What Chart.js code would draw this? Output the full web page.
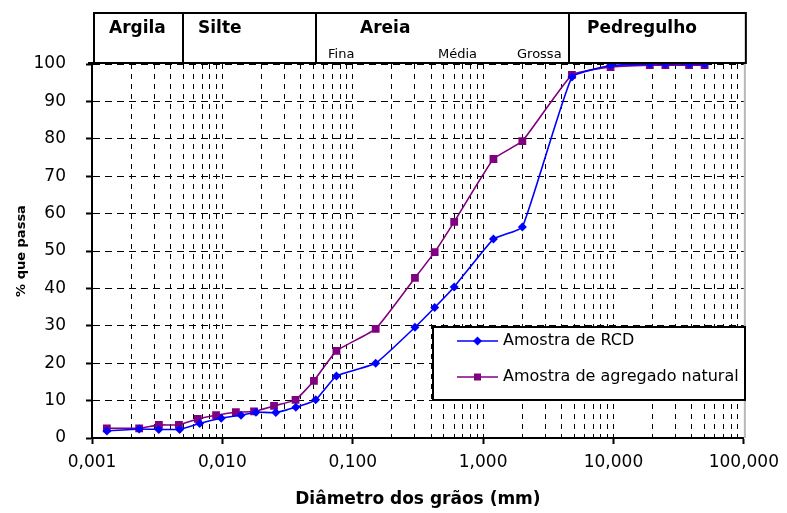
<!DOCTYPE html>
<html><head><meta charset="utf-8">
<script src="https://cdn.jsdelivr.net/npm/chart.js@4.4.0/dist/chart.umd.min.js"></script>
<style>html,body{margin:0;padding:0;background:#fff;}#wrap{width:787px;height:513px;position:relative;}</style>
</head><body><div id="wrap"><canvas id="c" width="787" height="513"></canvas></div>
<script>
// ---- data ----
const seriesLabels = ['Amostra de RCD', 'Amostra de agregado natural'];
const rcdDiameters = [0.0013, 0.0023, 0.00325, 0.0047, 0.0067, 0.0098, 0.0139, 0.0181, 0.0257, 0.0366, 0.052, 0.075, 0.15, 0.3, 0.425, 0.6, 1.2, 2.0, 4.8, 9.5, 19, 25, 38, 50];
const rcdPassing   = [1.9, 2.4, 2.3, 2.3, 3.9, 5.3, 6.1, 6.9, 6.8, 8.2, 10.2, 16.6, 20.0, 29.6, 34.9, 40.4, 53.2, 56.4, 96.5, 99.6, 100, 100, 100, 100];
const natDiameters = [0.0013, 0.0023, 0.00326, 0.00464, 0.00648, 0.00895, 0.0127, 0.0175, 0.0249, 0.0364, 0.0504, 0.075, 0.15, 0.3, 0.425, 0.6, 1.2, 2.0, 4.8, 9.5, 19, 25, 38, 50];
const natPassing   = [2.6, 2.6, 3.5, 3.5, 5.1, 6.1, 6.9, 7.1, 8.6, 10.2, 15.3, 23.3, 29.2, 42.8, 49.7, 57.8, 74.6, 79.4, 97.1, 99.2, 99.7, 99.7, 99.7, 99.7];
const xMajorTicks = [0.001, 0.01, 0.1, 1, 10, 100];
const xTickLabels = ['0,001', '0,010', '0,100', '1,000', '10,000', '100,000'];
const yTicks = [0, 10, 20, 30, 40, 50, 60, 70, 80, 90, 100];
const zoneNames = ['Argila', 'Silte', 'Areia', 'Pedregulho'];
const zoneBounds = [0.005, 0.052, 4.55];
const sandSubNames = ['Fina', 'Média', 'Grossa'];
const xTitle = 'Diâmetro dos grãos (mm)';
const yTitle = '% que passa';

// ---- tick list (majors + 2..9 minors) ----
const xAllTicks = [];
xMajorTicks.forEach((m, i) => {
  if (i < xMajorTicks.length - 1) {
    for (let k = 1; k <= 9; k++) xAllTicks.push({ value: m * k, major: k === 1 });
  } else xAllTicks.push({ value: m, major: true });
});

const FONT = 'DejaVu Sans';
const BLUE = '#0000ff', PURPLE = '#800080';

const headerPlugin = {
  id: 'header',
  afterDraw(chart) {
    const ctx = chart.ctx, a = chart.chartArea, xs = chart.scales.x;
    ctx.save();
    // right border (light gray)
    ctx.strokeStyle = '#b8b8b8'; ctx.lineWidth = 2;
    ctx.beginPath(); ctx.moveTo(a.right + 1, a.top); ctx.lineTo(a.right + 1, a.bottom); ctx.stroke();
    // header table
    const L = a.left + 2, R = a.right + 2, T = 13, B = a.top - 1;
    ctx.fillStyle = '#fff'; ctx.fillRect(L, T, R - L, B - T);
    ctx.strokeStyle = '#000'; ctx.lineWidth = 2;
    ctx.strokeRect(L, T, R - L, B - T);
    ctx.beginPath(); ctx.moveTo(a.left - 4, B); ctx.lineTo(R, B); ctx.stroke();
    zoneBounds.forEach(v => {
      const px = Math.round(xs.getPixelForValue(v));
      ctx.beginPath(); ctx.moveTo(px, T); ctx.lineTo(px, B); ctx.stroke();
    });
    ctx.fillStyle = '#000';
    ctx.font = 'bold 17px "' + FONT + '"';
    ctx.textBaseline = 'alphabetic'; ctx.textAlign = 'left';
    const mainX = [109, 198, 360, 587];
    zoneNames.forEach((t, i) => ctx.fillText(t, mainX[i], 33));
    ctx.font = '13px "' + FONT + '"';
    const subX = [328, 438, 517];
    sandSubNames.forEach((t, i) => ctx.fillText(t, subX[i], 58));

    // legend
    const lx = 433, ly = 327, lw = 312, lh = 73;
    ctx.fillStyle = '#fff'; ctx.fillRect(lx, ly, lw, lh);
    ctx.strokeStyle = '#000'; ctx.lineWidth = 2; ctx.strokeRect(lx, ly, lw, lh);
    const rows = [341, 377];
    chart.data.datasets.forEach((ds, i) => {
      const y = rows[i];
      ctx.strokeStyle = ds.borderColor; ctx.lineWidth = 1.6;
      ctx.beginPath(); ctx.moveTo(457, y); ctx.lineTo(498, y); ctx.stroke();
      ctx.fillStyle = ds.borderColor;
      if (ds.pointStyle === 'rectRot') {
        ctx.beginPath(); ctx.moveTo(477.5, y - 4.5); ctx.lineTo(482, y); ctx.lineTo(477.5, y + 4.5); ctx.lineTo(473, y); ctx.closePath(); ctx.fill();
      } else {
        ctx.fillRect(474, y - 3.5, 7, 7);
      }
      ctx.fillStyle = '#000'; ctx.font = '16px "' + FONT + '"'; ctx.textBaseline = 'middle';
      ctx.fillText(ds.label, 503, y);
    });
    ctx.restore();
  }
};

const toPts = (xs, ys) => xs.map((x, i) => ({ x: x, y: ys[i] }));

new Chart(document.getElementById('c'), {
  type: 'line',
  data: {
    datasets: [
      { label: seriesLabels[0], data: toPts(rcdDiameters, rcdPassing), borderColor: BLUE, backgroundColor: BLUE,
        borderWidth: 1.6, pointStyle: 'rectRot', pointRadius: 4.5, pointBorderWidth: 0, tension: 0.12 },
      { label: seriesLabels[1], data: toPts(natDiameters, natPassing), borderColor: PURPLE, backgroundColor: PURPLE,
        borderWidth: 1.6, pointStyle: 'rect', pointRadius: 5.5, pointBorderWidth: 0, tension: 0.12 }
    ]
  },
  options: {
    responsive: false, animation: false, devicePixelRatio: 1,
    layout: { padding: { top: 64, right: 40, bottom: 0, left: 0 } },
    plugins: { legend: { display: false }, tooltip: { enabled: false } },
    scales: {
      x: {
        type: 'logarithmic', min: 0.001, max: 100,
        afterBuildTicks: s => { s.ticks = xAllTicks.map(t => ({ value: t.value, major: t.major })); },
        afterFit: s => { s.height = 75; },
        ticks: {
          autoSkip: false, maxRotation: 0, minRotation: 0, padding: 8, color: '#000',
          font: { family: FONT, size: 17 },
          callback: (v) => {
            const i = xMajorTicks.findIndex(m => Math.abs(Math.log10(m) - Math.log10(v)) < 1e-6);
            return i >= 0 ? xTickLabels[i] : '';
          }
        },
        grid: {
          color: c => (c.tick && c.tick.value >= 99.9) ? 'rgba(0,0,0,0)' : '#000',
          lineWidth: 1, tickLength: 6, tickWidth: 2, tickBorderDash: [],
          tickColor: c => (c.tick && c.tick.major) ? '#000' : 'rgba(0,0,0,0)'
        },
        border: { display: true, color: '#000', width: 2, dash: [5, 5] },
        title: { display: true, text: xTitle, color: '#000', font: { family: FONT, size: 17, weight: 'bold' }, padding: { top: 0, bottom: 3 } }
      },
      y: {
        min: 0, max: 100,
        afterBuildTicks: s => { s.ticks = yTicks.map(v => ({ value: v })); },
        afterFit: s => { s.width = 92; },
        ticks: { padding: 20, color: '#000', font: { family: FONT, size: 17 } },
        grid: { color: '#000', lineWidth: 1, tickLength: 6, tickWidth: 2, tickColor: '#000', tickBorderDash: [] },
        border: { display: true, color: '#000', width: 2, dash: [7, 5] },
        title: { display: true, text: yTitle, color: '#000', font: { family: FONT, size: 13, weight: 'bold' }, padding: { top: 14, bottom: 0 } }
      }
    }
  },
  plugins: [headerPlugin]
});
</script>
</body></html>
